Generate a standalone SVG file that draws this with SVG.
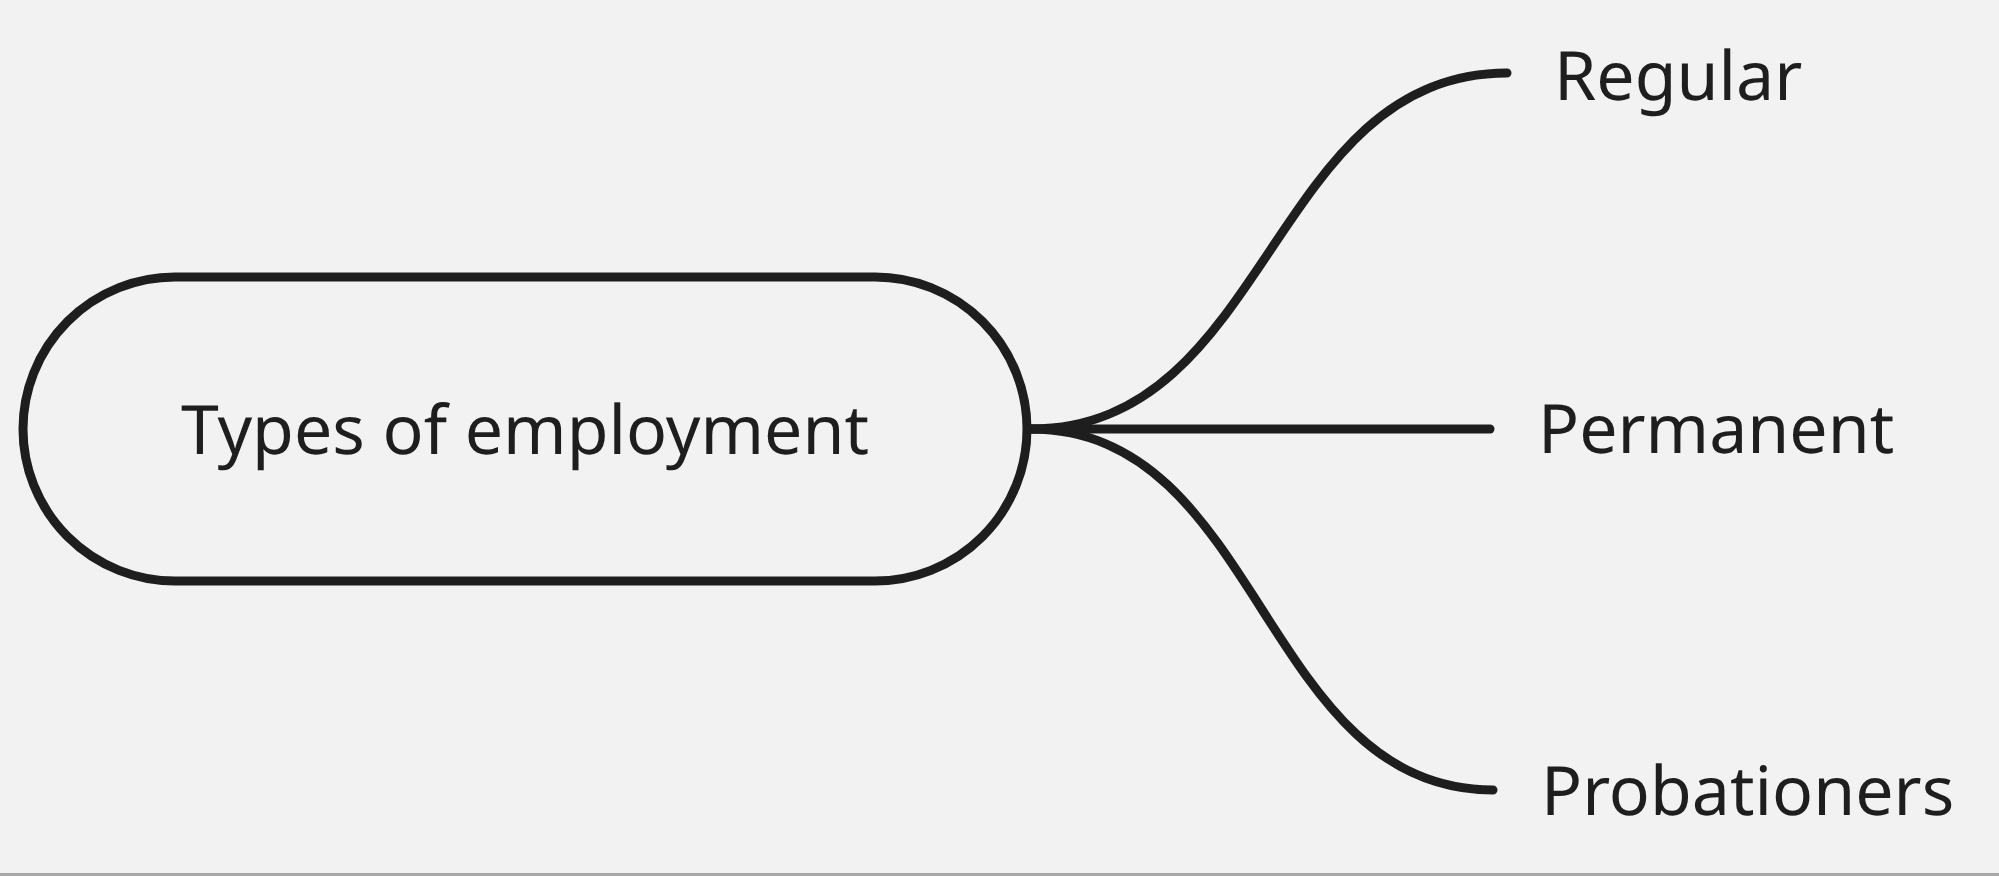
<svg xmlns="http://www.w3.org/2000/svg" width="1999" height="876" viewBox="0 0 1999 876">
<style>
.bg{fill:#f2f2f2}
.shape{fill:#f2f2f2;stroke:#1e1e1e;stroke-width:9}
.conn{fill:none;stroke:#1e1e1e;stroke-width:9;stroke-linecap:round}
.lbl{font-family:"Noto Sans","Open Sans",sans-serif;font-size:68px;fill:#1e1e1e;text-rendering:geometricPrecision}
</style>
<rect class="bg" x="0" y="0" width="1999" height="876"/>
<rect x="0" y="873" width="1999" height="3" fill="#a8a8a8"/>
<g id="connectors">
<path class="conn" d="M1031 429 C1270 429 1270 73 1507 73"/>
<path class="conn" d="M1031 429 L1490 429"/>
<path class="conn" d="M1031 429 C1262 429 1262 790 1493 790"/>
</g>
<g id="node-types">
<rect class="shape" x="23" y="277" width="1004" height="304" rx="152" ry="152"/>
<text class="lbl" x="525" y="454" text-anchor="middle">Types of employment</text>
</g>
<g id="node-regular">
<text class="lbl" x="1554" y="100">Regular</text>
</g>
<g id="node-permanent">
<text class="lbl" x="1538" y="453">Permanent</text>
</g>
<g id="node-probationers">
<text class="lbl" x="1541" y="815">Probationers</text>
</g>
</svg>
